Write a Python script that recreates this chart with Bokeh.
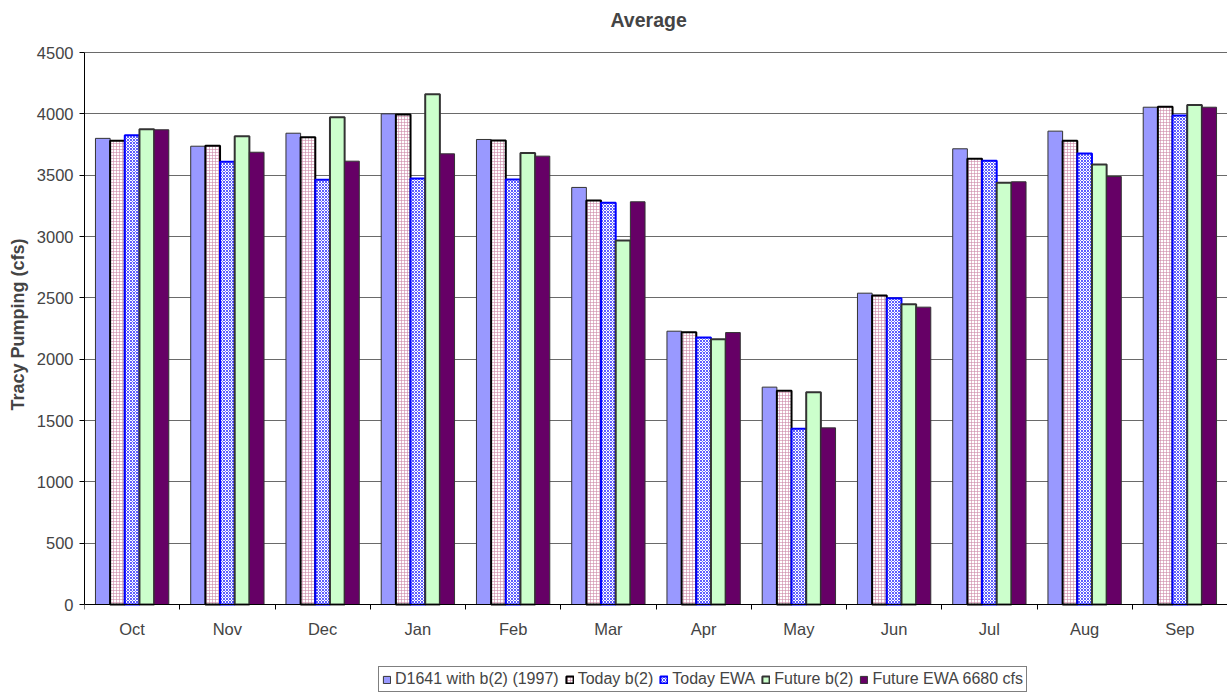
from bokeh.plotting import figure
from bokeh.models import Range1d, FixedTicker, Legend, LegendItem, ColumnDataSource, Title
from bokeh.transform import dodge
from bokeh.embed import file_html
from bokeh.resources import INLINE

months = ["Oct", "Nov", "Dec", "Jan", "Feb", "Mar", "Apr", "May", "Jun", "Jul", "Aug", "Sep"]
d1641_b2_1997 = [3800, 3736, 3842, 4000, 3791, 3400, 2228, 1772, 2538, 3715, 3859, 4054]
today_b2 = [3780, 3739, 3810, 3995, 3783, 3293, 2220, 1742, 2519, 3633, 3780, 4057]
today_ewa = [3826, 3609, 3462, 3473, 3465, 3275, 2177, 1432, 2497, 3617, 3677, 3986]
future_b2 = [3875, 3818, 3973, 4160, 3680, 2967, 2163, 1731, 2448, 3438, 3587, 4073]
future_ewa_6680 = [3870, 3687, 3614, 3674, 3655, 3283, 2217, 1440, 2424, 3446, 3489, 4054]
series_names = ["D1641 with b(2) (1997)", "Today b(2)", "Today EWA", "Future b(2)", "Future EWA 6680 cfs"]
y_ticks = [0, 500, 1000, 1500, 2000, 2500, 3000, 3500, 4000, 4500]

FONT = "Liberation Sans"

# layout (pixels): the frame is a little taller than the axis span so that the
# title and the legend sit where they do in the original chart
W, H = 1227, 694
LEFT, FRAME_TOP = 84, 34
TOP_PX, ZERO_PX = 52, 604          # pixel rows of 4500 and of 0
y_max = 4500
px_per_unit = (ZERO_PX - TOP_PX) / y_max
y_min = -(H - ZERO_PX) / px_per_unit
y_end = (ZERO_PX - FRAME_TOP) / px_per_unit

src = ColumnDataSource(dict(
    xc=[i + 0.5 for i in range(len(months))],
    s1=d1641_b2_1997, s2=today_b2, s3=today_ewa, s4=future_b2, s5=future_ewa_6680,
))

p = figure(width=W, height=H, x_range=Range1d(0, 12), y_range=Range1d(y_min, y_end),
           output_backend="svg", toolbar_location=None,
           min_border_left=LEFT, min_border_right=0, min_border_top=FRAME_TOP, min_border_bottom=0)
p.outline_line_color = None
p.background_fill_color = "white"
p.border_fill_color = "white"

p.title.text = "Average"
p.title.align = "left"
p.title.offset = 526
p.title.text_font = FONT
p.title.text_font_size = "19.5px"
p.title.text_font_style = "bold"
p.title.standoff = 8

bw = 0.154
styles = [
    dict(fill_color="#9999FF", line_color="#333333", line_width=1),
    dict(fill_color="#FFFFFF", line_color="#000000", line_width=2,
         hatch_pattern="+", hatch_color="#CC88A8", hatch_scale=3, hatch_weight=0.8, hatch_alpha=0.75),
    dict(fill_color="#FFFFFF", line_color="#0000FF", line_width=2,
         hatch_pattern="x", hatch_color="#3333FF", hatch_scale=3, hatch_weight=1, hatch_alpha=0.8),
    dict(fill_color="#CCFFCC", line_color="#333333", line_width=2),
    dict(fill_color="#660066", line_color="#333333", line_width=1),
]
cols = ["s1", "s2", "s3", "s4", "s5"]
renderers = []
for k, (c, st) in enumerate(zip(cols, styles)):
    r = p.vbar(x=dodge("xc", (k - 2) * bw, range=p.x_range), top=c, width=bw, bottom=0,
               source=src, **st)
    renderers.append(r)

# axes
p.xgrid.visible = False
p.ygrid.grid_line_color = "#6a6a6a"
p.ygrid.grid_line_width = 1
p.yaxis.ticker = FixedTicker(ticks=y_ticks)
p.yaxis.bounds = (0, y_max)
p.yaxis.axis_line_color = "black"
p.yaxis.major_tick_line_color = "black"
p.yaxis.major_tick_out = 5
p.yaxis.major_tick_in = 0
p.yaxis.minor_tick_line_color = None
p.yaxis.major_label_text_font = FONT
p.yaxis.major_label_text_font_size = "16.5px"
p.yaxis.major_label_standoff = 6

# y-axis title, placed along the axis' own span (0..4500)
ytitle = Title(text="Tracy Pumping (cfs)", align="left", offset=H - 410,
               text_font=FONT, text_font_size="18px", text_font_style="bold",
               vertical_align="middle", standoff=10)
p.add_layout(ytitle, "left")

centers = [i + 0.5 for i in range(len(months))]
bounds = [float(i) for i in range(len(months) + 1)]
p.xaxis.fixed_location = 0
p.xaxis.ticker = FixedTicker(ticks=centers, minor_ticks=bounds)
p.xaxis.major_label_overrides = {c: m for c, m in zip(centers, months)}
p.xaxis.axis_line_color = "black"
p.xaxis.major_tick_line_color = None
p.xaxis.major_tick_out = 0
p.xaxis.major_tick_in = 0
p.xaxis.minor_tick_line_color = "black"
p.xaxis.minor_tick_out = 5
p.xaxis.minor_tick_in = 0
p.xaxis.major_label_text_font = FONT
p.xaxis.major_label_text_font_size = "16.5px"
p.xaxis.major_label_standoff = 10

legend = Legend(items=[LegendItem(label=n, renderers=[r]) for n, r in zip(series_names, renderers)],
                orientation="horizontal", location=(294, 2),
                border_line_color="black", border_line_width=1,
                label_text_font=FONT, label_text_font_size="16px",
                glyph_width=9, glyph_height=9, label_standoff=4, spacing=6,
                padding=3, margin=0, label_height=17, background_fill_color="white")
p.add_layout(legend)

open("out.html", "w").write(file_html(p, INLINE))
